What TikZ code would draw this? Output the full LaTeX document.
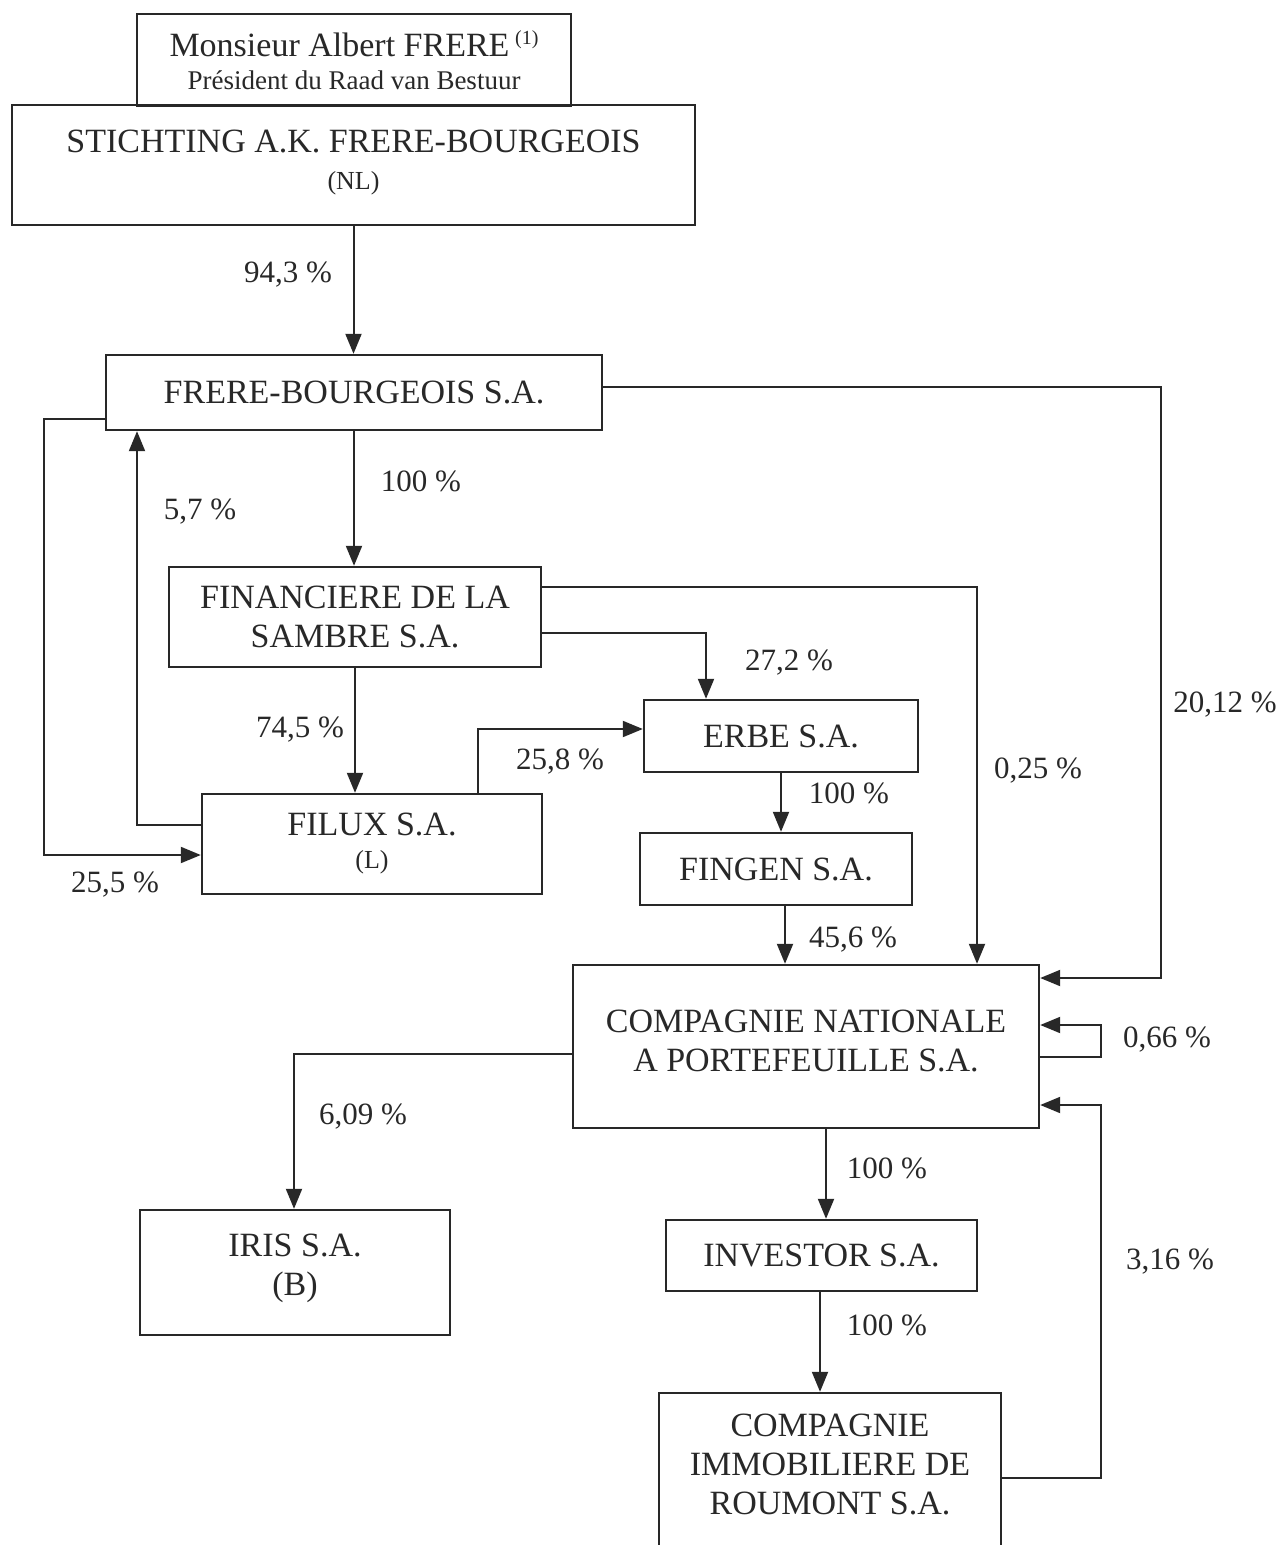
\documentclass[tikz,border=0pt]{standalone}
\usepackage{fontspec}
\setmainfont{Liberation Serif}
\usetikzlibrary{arrows.meta,calc}
\definecolor{inkgray}{RGB}{40,40,40}
\tikzset{every picture/.style={line width=1pt}}
\tikzset{
  firm/.style={draw=inkgray, line width=1.2pt, inner sep=0pt, align=center, text=inkgray, font=\fontsize{17}{19.5}\selectfont},
  link/.style={draw=inkgray, line width=1pt, -{Triangle[length=10pt,width=8pt]}},
  pct/.style={inner sep=0.75pt, text=inkgray, font=\fontsize{15.5}{18}\selectfont}
}

\begin{document}
\begin{tikzpicture}[x=0.5pt,y=0.5pt,yscale=-1,xscale=1]
%set diagram to the page: 1284 wide, 1545 high
\clip (0,0) rectangle (1284,1545);
\fill[white] (0,0) rectangle (1284,1545);

%Shape: Rectangle [Albert]
\node[firm, minimum width=217pt, minimum height=46pt] (alb) at (354,60) {Monsieur Albert FRERE\,\raisebox{6pt}{\fontsize{10}{10}\selectfont (1)}\\[-3pt]{\fontsize{13.5}{15}\selectfont Président du Raad van Bestuur}};
%Shape: Rectangle [Stichting]
\node[firm, minimum width=341.5pt, minimum height=60pt, text depth=5pt] (stich) at (353.5,165) {STICHTING A.K. FRERE-BOURGEOIS\\[-1pt]{\fontsize{13}{15}\selectfont (NL)}};
%Shape: Rectangle [Frere-Bourgeois]
\node[firm, minimum width=248pt, minimum height=37.5pt] (fb) at (354,392.5) {FRERE-BOURGEOIS S.A.};
%Shape: Rectangle [Sambre]
\node[firm, minimum width=186pt, minimum height=50pt] (fdls) at (355,617) {FINANCIERE DE LA\\SAMBRE S.A.};
%Shape: Rectangle [Erbe]
\node[firm, minimum width=137pt, minimum height=36pt] (erbe) at (781,736) {ERBE S.A.};
%Shape: Rectangle [Filux]
\node[firm, minimum width=170pt, minimum height=50pt] (filux) at (372,844) {FILUX S.A.\\[-3pt]{\fontsize{13}{15}\selectfont (L)}};
%Shape: Rectangle [Fingen]
\node[firm, minimum width=136pt, minimum height=36pt] (fingen) at (776,869) {FINGEN S.A.};
%Shape: Rectangle [CNP]
\node[firm, minimum width=233pt, minimum height=81.5pt, text depth=6pt] (cnp) at (806,1046.5) {COMPAGNIE NATIONALE\\A PORTEFEUILLE S.A.};
%Shape: Rectangle [Iris]
\node[firm, minimum width=155pt, minimum height=62.5pt, text depth=8pt] (iris) at (295,1272.5) {IRIS S.A.\\(B)};
%Shape: Rectangle [Investor]
\node[firm, minimum width=155.5pt, minimum height=35.5pt] (inv) at (821.5,1255.5) {INVESTOR S.A.};
%Shape: Rectangle [Roumont]
\node[firm, minimum width=171pt, minimum height=88.5pt, text depth=17pt] (cir) at (830,1481.5) {COMPAGNIE\\IMMOBILIERE DE\\ROUMONT S.A.};

%Straight Lines [bends]
\coordinate (k1) at (44,855);
\coordinate (k2) at (137,825);
\coordinate (k3) at (977,587);
\coordinate (k4) at (706,633);
\coordinate (k5) at (478,729);
\coordinate (k7) at (785,0);
\coordinate (k8) at (1101,1025);
\coordinate (k9) at (1101,1057);
\coordinate (k10) at (294,1054);
\coordinate (k11) at (826,0);
\coordinate (k12) at (820,0);
\coordinate (k13) at (1101,1478);
\coordinate (k14) at (1101,1105);
\coordinate (k15) at (1161,978);
\coordinate (k16) at (1161,387);

%Straight Lines
\draw[link] (stich.south) -- (stich.south |- fb.north);
%Straight Lines
\draw[link] (fb.south) -- (fb.south |- fdls.north);
%Straight Lines
\draw[link] (k16 -| fb.east) -- (k16) -- (k15) -- (k15 -| cnp.east);
%Straight Lines
\draw[link] ($(fb.south west)+(0,-12)$) -| (k1) -- (k1 -| filux.west);
%Straight Lines
\draw[link] (k2 -| filux.west) -- (k2) -- (k2 |- fb.south);
%Straight Lines
\draw[link] (fdls.south) -- (fdls.south |- filux.north);
%Straight Lines
\draw[link] (k3 -| fdls.east) -- (k3) -- (k3 |- cnp.north);
%Straight Lines
\draw[link] (k4 -| fdls.east) -- (k4) -- (k4 |- erbe.north);
%Straight Lines
\draw[link] (k5 |- filux.north) -- (k5) -- (k5 -| erbe.west);
%Straight Lines
\draw[link] (erbe.south) -- (erbe.south |- fingen.north);
%Straight Lines
\draw[link] (k7 |- fingen.south) -- (k7 |- cnp.north);
%Straight Lines
\draw[link] (k9 -| cnp.east) -- (k9) -- (k8) -- (k8 -| cnp.east);
%Straight Lines
\draw[link] (k10 -| cnp.west) -- (k10) -- (k10 |- iris.north);
%Straight Lines
\draw[link] (k11 |- cnp.south) -- (k11 |- inv.north);
%Straight Lines
\draw[link] (k12 |- inv.south) -- (k12 |- cir.north);
%Straight Lines
\draw[link] (k13 -| cir.east) -- (k13) -- (k14) -- (k14 -| cnp.east);

% Text Node
\node[pct] (p1) at (288,275) {94,3 \%};
% Text Node
\node[pct] (p2) at (421,481) {100 \%};
% Text Node
\node[pct] (p3) at (200,512) {5,7 \%};
% Text Node
\node[pct] (p4) at (300,730) {74,5 \%};
% Text Node
\node[pct] (p5) at (560,762) {25,8 \%};
% Text Node
\node[pct] (p6) at (115,885) {25,5 \%};
% Text Node
\node[pct] (p7) at (789,663) {27,2 \%};
% Text Node
\node[pct] (p8) at (1038,771) {0,25 \%};
% Text Node
\node[pct] (p9) at (1225,705) {20,12 \%};
% Text Node
\node[pct] (p10) at (849,793) {100 \%};
% Text Node
\node[pct] (p11) at (853,940) {45,6 \%};
% Text Node
\node[pct] (p12) at (1167,1040) {0,66 \%};
% Text Node
\node[pct] (p13) at (363,1117) {6,09 \%};
% Text Node
\node[pct] (p14) at (887,1168) {100 \%};
% Text Node
\node[pct] (p15) at (1170,1262) {3,16 \%};
% Text Node
\node[pct] (p16) at (887,1325) {100 \%};

\end{tikzpicture}
\end{document}
